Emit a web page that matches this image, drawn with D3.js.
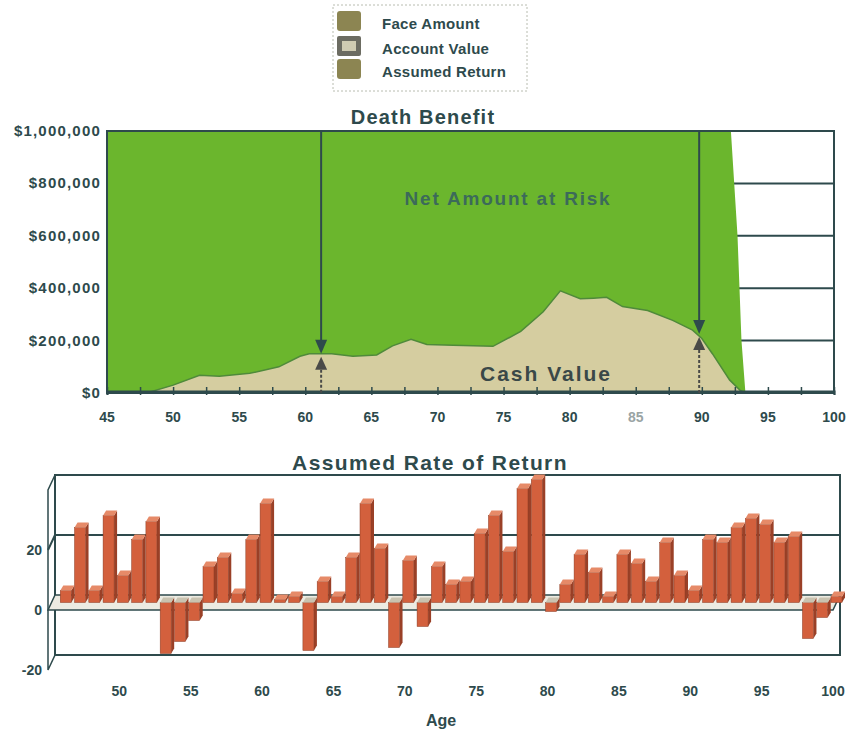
<!DOCTYPE html>
<html>
<head>
<meta charset="utf-8">
<script src="https://cdn.jsdelivr.net/npm/d3@7"></script>
<style>
  body { margin: 0; background: #fff; }
  svg { display: block; font-family: "Liberation Sans", Arial, sans-serif; }
  text { fill: #2e4a4c; font-weight: bold; }
</style>
</head>
<body>
<svg id="chart" width="854" height="731"></svg>
<script>
// ---- data ----
var legendLabels = ["Face Amount", "Account Value", "Assumed Return"];

var faceAges   = [45, 92.2, 92.7, 93.0, 93.3];
var faceValues = [1000000, 1000000, 600000, 200000, 0];

var cashAges   = [45, 48, 50, 52, 53.5, 55.8, 58, 59.6, 60.3, 62, 63.6, 65.4, 66.6, 68, 69.2, 71.2, 74.2, 76.3, 78, 79.3, 80.8, 81.8, 82.8, 84, 85.9, 87.8, 89.3, 90, 90.8, 92.1, 92.9, 93.3];
var cashValues = [0, 0, 30000, 68000, 64000, 75000, 100000, 140000, 150000, 150000, 140000, 145000, 180000, 205000, 185000, 182000, 178000, 235000, 310000, 390000, 360000, 362000, 365000, 330000, 315000, 277000, 240000, 208000, 150000, 50000, 10000, 0];

var arrowAges   = [61.2, 89.8];
var arrowValues = [150000, 225000];

var dbTicksY = [0, 200000, 400000, 600000, 800000, 1000000];
var dbTicksX = [45, 50, 55, 60, 65, 70, 75, 80, 85, 90, 95, 100];

var rorAges   = [46, 47, 48, 49, 50, 51, 52, 53, 54, 55, 56, 57, 58, 59, 60, 61, 62, 63, 64, 65, 66, 67, 68, 69, 70, 71, 72, 73,
                 74, 75, 76, 77, 78, 79, 80, 81, 82, 83, 84, 85, 86, 87, 88, 89, 90, 91, 92, 93, 94, 95, 96, 97, 98, 99, 100];
var rorValues = [4, 25, 4, 29, 9, 21, 27, -17, -13, -6, 12, 15, 3, 21, 33, 1, 2, -16, 7, 2, 15, 33, 18, -15, 14, -8, 12, 6,
                 7, 23, 29, 17, 38, 41, -3, 6, 16, 10, 2, 16, 13, 7, 20, 9, 4, 21, 20, 25, 28, 26, 20, 22, -12, -5, 2];
var rorTicksY = [-20, 0, 20];
var rorTicksX = [50, 55, 60, 65, 70, 75, 80, 85, 90, 95, 100];

var svg = d3.select("#chart");
var ink = "#2e4a4c";

// ---- legend ----
var legend = svg.append("g");
legend.append("rect").attr("x", 333).attr("y", 5).attr("width", 194).attr("height", 86)
    .attr("fill", "#fff").attr("stroke", "#b8bcb0").attr("stroke-dasharray", "2,2");
legendLabels.forEach(function (d, i) {
    var ys = [11, 36, 59][i];
    if (i == 1) {
        legend.append("rect").attr("x", 337).attr("y", ys).attr("width", 24).attr("height", 20)
            .attr("fill", "#6c6c62").attr("rx", 2);
        legend.append("rect").attr("x", 342).attr("y", ys + 5).attr("width", 14).attr("height", 10)
            .attr("fill", "#cfcbb2");
    } else {
        legend.append("rect").attr("x", 337).attr("y", ys).attr("width", 24).attr("height", 20)
            .attr("fill", "#8c8552").attr("rx", 3);
    }
    legend.append("text").attr("x", 382).attr("y", ys + 18)
        .style("font-size", "15px").style("letter-spacing", "0.3px").text(d);
});

// ---- Death Benefit ----
var x1 = d3.scaleLinear().domain([45, 100]).range([107, 834]);
var y1 = d3.scaleLinear().domain([0, 1000000]).range([393, 131]);

svg.append("text").attr("x", 423).attr("y", 124).attr("text-anchor", "middle")
    .style("font-size", "20px").style("letter-spacing", "1.2px").text("Death Benefit");

var topG = svg.append("g");

topG.selectAll(".grid").data(dbTicksY.slice(1, 5)).enter().append("line")
    .attr("x1", x1(45)).attr("x2", x1(100))
    .attr("y1", function (d) { return y1(d); }).attr("y2", function (d) { return y1(d); })
    .attr("stroke", ink).attr("stroke-width", 2);

var area1 = d3.area()
    .x(function (d) { return x1(d[0]); })
    .y0(y1(0))
    .y1(function (d) { return y1(d[1]); });

topG.append("path")
    .datum(faceAges.map(function (a, i) { return [a, faceValues[i]]; }))
    .attr("d", area1).attr("fill", "#6bb62d");

var cashData = cashAges.map(function (a, i) { return [a, cashValues[i]]; });
topG.append("path").datum(cashData).attr("d", area1).attr("fill", "#d5cda0");
topG.append("path").datum(cashData)
    .attr("d", d3.line().x(function (d) { return x1(d[0]); }).y(function (d) { return y1(d[1]); }))
    .attr("fill", "none").attr("stroke", "#4f8a3a").attr("stroke-width", 1.5);

// frame
topG.append("rect").attr("x", x1(45)).attr("y", y1(1000000))
    .attr("width", x1(100) - x1(45)).attr("height", y1(0) - y1(1000000))
    .attr("fill", "none").attr("stroke", ink).attr("stroke-width", 2);

var xAxis1 = d3.axisBottom(x1).tickValues(d3.range(45, 100.1, 2.5)).tickSize(4).tickFormat("");
topG.append("g").attr("transform", "translate(0," + (y1(0) - 2) + ")").call(xAxis1)
    .call(function (g) {
        g.select(".domain").attr("stroke", ink).attr("stroke-width", 2);
        g.selectAll(".tick line").attr("stroke", ink).attr("stroke-width", 1.5).attr("y1", -4);
    });

topG.selectAll(".xl").data(dbTicksX).enter().append("text")
    .attr("x", function (d) { return x1(d); }).attr("y", 422)
    .attr("text-anchor", "middle").style("font-size", "14px")
    .style("fill", function (d) { return d == 85 ? "#9aa4a4" : ink; })
    .text(function (d) { return d; });

topG.selectAll(".yl").data(dbTicksY).enter().append("text")
    .attr("x", 101).attr("y", function (d) { return y1(d) + 5; })
    .attr("text-anchor", "end").style("font-size", "15px").style("letter-spacing", "1.2px")
    .text(function (d) { return "$" + d3.format(",")(d); });

// arrows
arrowAges.forEach(function (a, i) {
    var ax = x1(a), cy = y1(arrowValues[i]);
    topG.append("line").attr("x1", ax).attr("x2", ax).attr("y1", y1(1000000)).attr("y2", cy - 8)
        .attr("stroke", ink).attr("stroke-width", 2);
    topG.append("path").attr("d", "M" + (ax - 6) + "," + (cy - 14) + "L" + (ax + 6) + "," + (cy - 14) + "L" + ax + "," + cy + "Z")
        .attr("fill", ink);
    topG.append("path").attr("d", "M" + (ax - 6) + "," + (cy + 16) + "L" + (ax + 6) + "," + (cy + 16) + "L" + ax + "," + (cy + 3) + "Z")
        .attr("fill", "#4a4a48");
    topG.append("line").attr("x1", ax).attr("x2", ax).attr("y1", cy + 16).attr("y2", y1(0))
        .attr("stroke", "#4a4a48").attr("stroke-width", 2).attr("stroke-dasharray", "3,2");
});

svg.append("text").attr("x", 508).attr("y", 205).attr("text-anchor", "middle")
    .style("font-size", "19px").style("letter-spacing", "1.8px").style("fill", "#3c6a5a").text("Net Amount at Risk");
svg.append("text").attr("x", 546).attr("y", 381).attr("text-anchor", "middle")
    .style("font-size", "21px").style("letter-spacing", "2px").style("fill", "#3a4848").text("Cash Value");

// ---- Assumed Rate of Return (3D look) ----
var dx = 7, dy = -15;
var xf = d3.scaleLinear().domain([45, 100]).range([48, 833]);   // front plane
var yf = d3.scaleLinear().domain([-20, 40]).range([670, 490]);
function xb(v) { return xf(v) + dx; }
function yb(v) { return yf(v) + dy; }
function xm(v) { return xf(v) + dx / 2; }
function ym(v) { return yf(v) + dy / 2; }

svg.append("text").attr("x", 430).attr("y", 470).attr("text-anchor", "middle")
    .style("font-size", "21px").style("letter-spacing", "1.4px").text("Assumed Rate of Return");

var bot = svg.append("g");

// left wall
bot.append("path")
    .attr("d", "M" + xb(45) + "," + yb(40) + "L" + xf(45) + "," + yf(40) + "L" + xf(45) + "," + yf(-20) + "L" + xb(45) + "," + yb(-20) + "Z")
    .attr("fill", "#fff").attr("stroke", ink).attr("stroke-width", 1.5);
// back wall
bot.append("rect").attr("x", xb(45)).attr("y", yb(40)).attr("width", xb(100) - xb(45)).attr("height", yb(-20) - yb(40))
    .attr("fill", "#fff").attr("stroke", ink).attr("stroke-width", 2);

bot.selectAll(".g20").data([20]).enter().append("path")
    .attr("d", function (d) { return "M" + xf(45) + "," + yf(d) + "L" + xb(45) + "," + yb(d) + "L" + xb(100) + "," + yb(d); })
    .attr("fill", "none").attr("stroke", ink).attr("stroke-width", 2);

// zero floor
bot.append("path")
    .attr("d", "M" + xb(45) + "," + yb(0) + "L" + xb(100) + "," + yb(0) + "L" + xf(100) + "," + yf(0) + "L" + xf(45) + "," + yf(0) + "Z")
    .attr("fill", "#ecebe2").attr("stroke", ink).attr("stroke-width", 1.5);

// bars
var bw = 5.5, bd = 3, bh = -5;
var bars = bot.selectAll(".bar").data(rorAges.map(function (a, i) { return { age: a, v: rorValues[i] }; }))
    .enter().append("g");
bars.each(function (d) {
    var g = d3.select(this);
    var c = xm(d.age), y0 = ym(0), yv = ym(d.v);
    var yt = Math.min(y0, yv), ybm = Math.max(y0, yv);
    g.append("path")
        .attr("d", "M" + (c + bw) + "," + yt + "L" + (c + bw + bd) + "," + (yt + bh) + "L" + (c + bw + bd) + "," + (ybm + bh) + "L" + (c + bw) + "," + ybm + "Z")
        .attr("fill", "#9a4027");
    g.append("rect").attr("x", c - bw).attr("y", yt).attr("width", 2 * bw).attr("height", ybm - yt)
        .attr("fill", "#d3603d").attr("stroke", "#8a3a22").attr("stroke-width", 0.5);
    g.append("path")
        .attr("d", "M" + (c - bw) + "," + yt + "L" + (c + bw) + "," + yt + "L" + (c + bw + bd) + "," + (yt + bh) + "L" + (c - bw + bd) + "," + (yt + bh) + "Z")
        .attr("fill", d.v >= 0 ? "#e68a68" : "#c9c3b0");
});

bot.selectAll(".yl").data(rorTicksY).enter().append("text")
    .attr("x", 42).attr("y", function (d) { return yf(d) + 5; })
    .attr("text-anchor", "end").style("font-size", "14px")
    .text(function (d) { return d; });

bot.selectAll(".xl").data(rorTicksX).enter().append("text")
    .attr("x", function (d) { return xf(d); }).attr("y", 696)
    .attr("text-anchor", "middle").style("font-size", "14px")
    .text(function (d) { return d; });

svg.append("text").attr("x", 441).attr("y", 726).attr("text-anchor", "middle")
    .style("font-size", "16px").text("Age");
</script>
</body>
</html>
